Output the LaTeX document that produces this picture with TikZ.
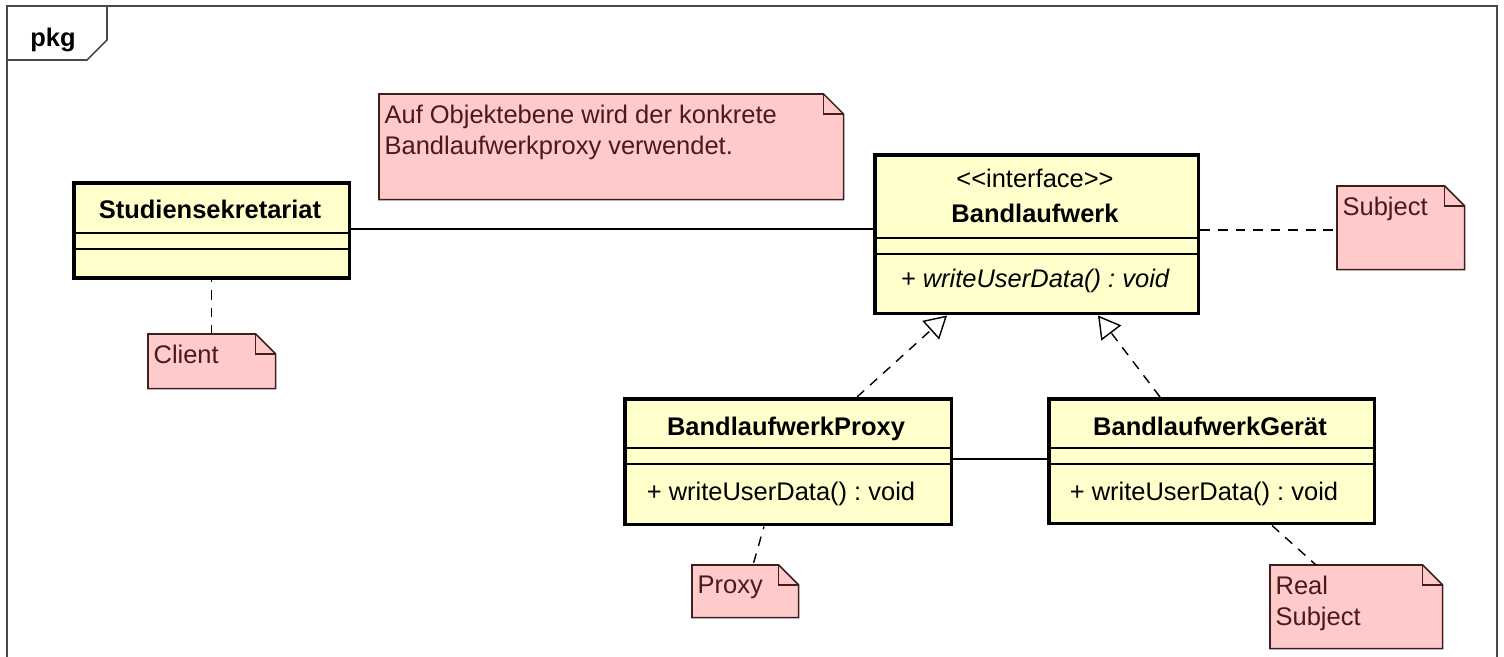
\documentclass[tikz,border=0pt]{standalone}
\usepackage{fontspec}
\setmainfont{Liberation Sans}
\usepackage{tikz}
\usetikzlibrary{arrows.meta, backgrounds}
\frenchspacing
\definecolor{classfill}{RGB}{255, 255, 204}
\definecolor{notefill}{RGB}{255, 202, 202}
\definecolor{notedraw}{RGB}{62, 30, 30}
\definecolor{notetext}{RGB}{74, 26, 26}
\definecolor{framegray}{RGB}{72, 72, 72}

\tikzset{
  umlclass/.style={draw, line width=2pt, fill=classfill, anchor=north west, inner sep=0pt},
  sepline/.style={line width=0.8pt},
  classtext/.style={anchor=base, inner sep=0pt, font=\fontsize{14.5}{17.5}\selectfont},
  classname/.style={classtext, font=\fontsize{14.5}{17.5}\selectfont\bfseries},
  notearea/.style={anchor=north west, inner sep=0pt},
  notebody/.style={fill=notefill, draw=notedraw, line width=0.9pt},
  notelabel/.style={anchor=north west, inner xsep=3pt, inner ysep=6pt, align=left,
    text=notetext, font=\fontsize{14.5}{17.7}\selectfont},
  assoc/.style={line width=0.8pt},
  dependline/.style={line width=0.8pt, dash pattern=on 5.5pt off 4.5pt},
  realize/.style={dependline, -{Triangle[open, length=0.44cm, width=0.5cm, line width=0.8pt, fill=white]}},
}

\begin{document}
\begin{tikzpicture}[x=0.02cm, y=-0.02cm]

  \useasboundingbox (0, 0) rectangle (1504, 656);

  % package frame
  \draw[framegray, line width=0.9pt] (7, 6) rectangle (1497, 662);
  \draw[framegray, line width=0.9pt] (7, 60) -- (87, 60) -- (107, 40) -- (107, 6);
  \node[anchor=base west, inner sep=0pt, font=\fontsize{14.5}{17.5}\selectfont\bfseries] (pkg) at (30, 46) {pkg};

  % classes
  \node[umlclass, minimum width=5.52cm, minimum height=1.9cm] (sek) at (72, 181) {};
  \draw[sepline] (sek.west |- 0,233) -- (sek.east |- 0,233);
  \draw[sepline] (sek.west |- 0,249) -- (sek.east |- 0,249);
  \node[classname] (sek-name) at (210, 218) {Studiensekretariat};

  \node[umlclass, minimum width=6.48cm, minimum height=3.18cm] (bw) at (873, 153) {};
  \draw[sepline] (bw.west |- 0,238) -- (bw.east |- 0,238);
  \draw[sepline] (bw.west |- 0,254) -- (bw.east |- 0,254);
  \node[classtext] (bw-stereo) at (1035, 187) {\textless{}\textless{}interface\textgreater{}\textgreater{}};
  \node[classname] (bw-name) at (1035, 222) {Bandlaufwerk};
  \node[classtext, font=\fontsize{14.5}{17.5}\selectfont\itshape] (bw-op) at (1035, 287) {+ writeUserData() : void};

  \node[umlclass, minimum width=6.54cm, minimum height=2.52cm] (proxy) at (623, 397) {};
  \draw[sepline] (proxy.west |- 0,448) -- (proxy.east |- 0,448);
  \draw[sepline] (proxy.west |- 0,464) -- (proxy.east |- 0,464);
  \node[classname] (proxy-name) at (786, 435) {BandlaufwerkProxy};
  \node[classtext] (proxy-op) at (781, 500) {+ writeUserData() : void};

  \node[umlclass, minimum width=6.52cm, minimum height=2.5cm] (geraet) at (1047, 397) {};
  \draw[sepline] (geraet.west |- 0,448) -- (geraet.east |- 0,448);
  \draw[sepline] (geraet.west |- 0,464) -- (geraet.east |- 0,464);
  \node[classname] (geraet-name) at (1210, 435) {BandlaufwerkGerät};
  \node[classtext] (geraet-op) at (1204, 500) {+ writeUserData() : void};

  % notes
  \node[notearea, minimum width=9.28cm, minimum height=2.1cm] (objnote) at (379, 94) {};
  \node[notelabel] (objnote-text) at (objnote.north west) {Auf Objektebene wird der konkrete\\Bandlaufwerkproxy verwendet.};
  \node[notearea, minimum width=2.54cm, minimum height=1.08cm] (client) at (148, 334) {};
  \node[notelabel] (client-text) at (client.north west) {Client};
  \node[notearea, minimum width=2.54cm, minimum height=1.66cm] (subj) at (1337, 186) {};
  \node[notelabel] (subj-text) at (subj.north west) {Subject};
  \node[notearea, minimum width=2.12cm, minimum height=1.04cm] (proxynote) at (692, 565) {};
  \node[notelabel] (proxynote-text) at (proxynote.north west) {Proxy};
  \node[notearea, minimum width=3.44cm, minimum height=1.66cm] (realnote) at (1270, 565) {};
  \node[notelabel] (realnote-text) at (realnote.north west) {Real\\Subject};

  \begin{scope}[on background layer]
    \foreach \n in {objnote, client, subj, proxynote, realnote} {
      \filldraw[notebody] (\n.south west) -- (\n.north west) -- ([xshift=-0.4cm]\n.north east)
        -- ([yshift=-0.4cm]\n.north east) -- (\n.south east) -- cycle;
      \draw[notebody, fill=none] ([xshift=-0.4cm]\n.north east) |- ([yshift=-0.4cm]\n.north east);
    }
  \end{scope}

  % connectors
  \draw[assoc] (sek.east |- 0,229) -- (bw.west |- 0,229);
  \draw[assoc] (proxy.east |- 0,459) -- (geraet.west |- 0,459);
  \draw[dependline, dash phase=4pt] (sek.south) -- (client.north -| sek.south);
  \draw[dependline] (bw.east |- 0,230) -- (subj.west |- 0,230);
  \draw[realize] (proxy.north -| 857,0) -- (bw.south -| 947,0);
  \draw[realize] (geraet.north -| 1160,0) -- (bw.south -| 1098,0);
  \draw[dependline, dash phase=4pt] (proxy.south -| 764,0) -- (proxynote.north -| 753,0);
  \draw[dependline] (geraet.south -| 1272,0) -- (realnote.north -| 1316,0);

\end{tikzpicture}
\end{document}
